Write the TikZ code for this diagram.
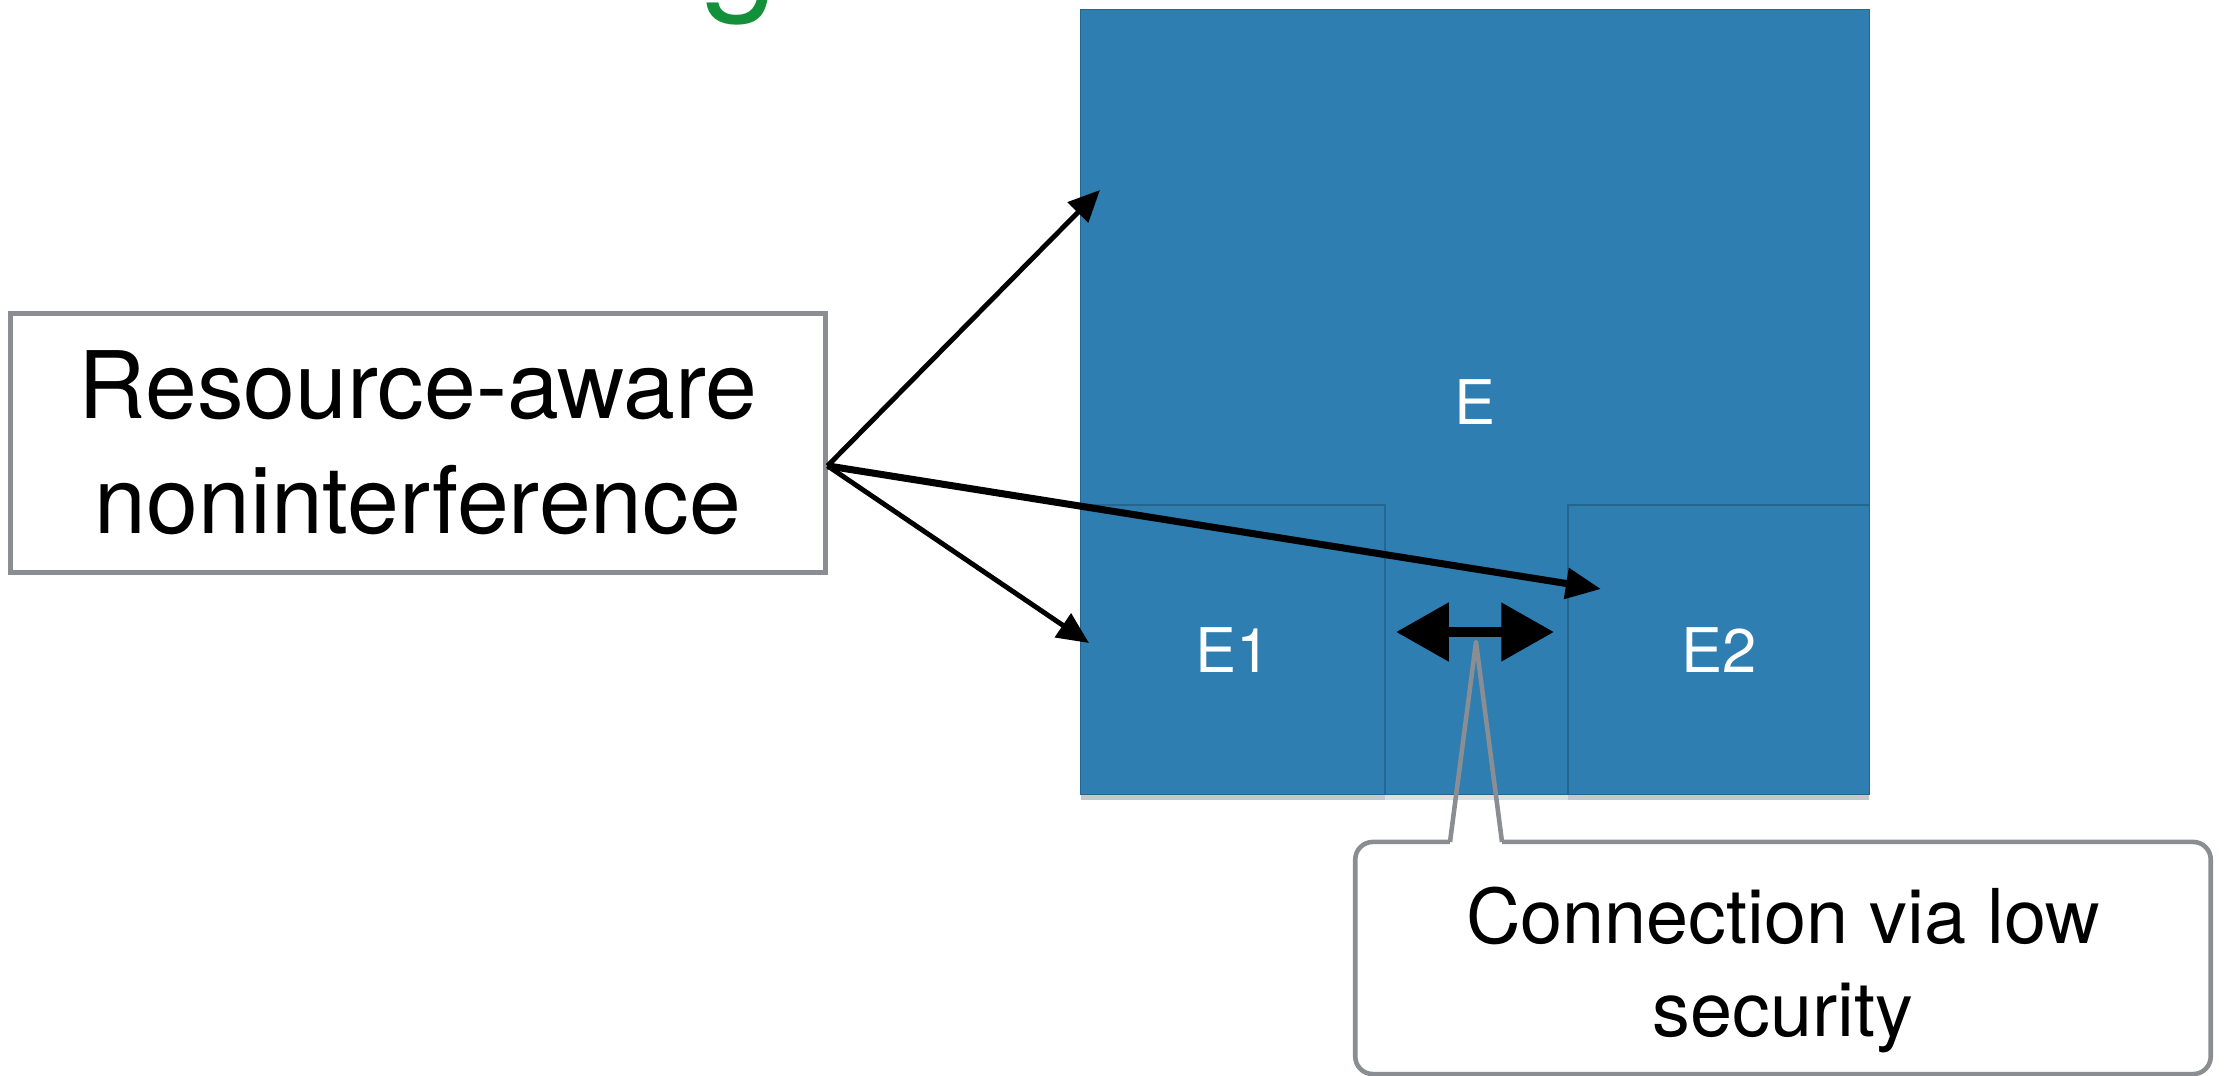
\documentclass[tikz,border=0pt]{standalone}
\usepackage{fontspec}
\setmainfont{TeX Gyre Heros}
\usepackage{tikz}
\usetikzlibrary{calc,positioning,arrows.meta,shadows}
\definecolor{paperblue}{RGB}{46,126,178}
\definecolor{titlegreen}{RGB}{18,145,58}
\definecolor{calloutgray}{RGB}{138,141,145}

\begin{document}
\begin{tikzpicture}[x=0.01cm,y=-0.01cm,
    envbox/.style={fill=paperblue,draw=paperblue!80!black,line width=0.4pt,inner sep=0pt,
      text=white,font=\fontsize{17.5}{20}\selectfont,
      drop shadow={shadow xshift=0pt,shadow yshift=-1.6pt,opacity=.25}},
    textbox/.style={draw=calloutgray,line width=1.3pt,fill=white,align=center,inner sep=0pt},
    ptr/.style={-{Triangle[length=9pt,width=8pt]},line width=1.4pt}]
  \useasboundingbox (0,0) rectangle (2226,1076);
  \clip (0,0) rectangle (2226,1076);
  \node[text=titlegreen,font=\fontsize{40}{44}\selectfont,anchor=base] (ttl) at (740,-5) {g};

  % environments
  \node[envbox,minimum width=7.88cm,minimum height=7.84cm] (E) at (1475,402) {E};
  \node[envbox,minimum width=3.04cm,minimum height=2.89cm,anchor=south west] (E1) at (E.south west) {E1};
  \node[envbox,minimum width=3.01cm,minimum height=2.89cm,anchor=south east] (E2) at (E.south east) {E2};

  \node[textbox,minimum width=8.14cm,minimum height=2.59cm,
    font=\fontsize{26.5}{32.7}\selectfont] (rani) at (418,443) {Resource-aware\\noninterference};
  \node[textbox,rounded corners=5pt,minimum width=8.55cm,minimum height=2.32cm] (conn) at (1783,958) {};
  \node[align=center,font=\fontsize{21.5}{26.3}\selectfont] (conntxt) at (1783,970) {Connection via low\\security};

  \coordinate (src) at ([yshift=-6.5pt]rani.east);
  \coordinate (hE) at (1100,190);
  \coordinate (hE1) at (1089,643);
  \coordinate (hE2) at (1601,589);
  \draw[ptr] (src) -- (hE);
  \draw[ptr] (src) -- (hE1);
  \draw[ptr,line width=2pt,-{Triangle[length=10pt,width=8.5pt]}] (src) -- (hE2);

  % low channel
  \coordinate (lo1) at (1396,632);
  \coordinate (lo2) at (1554,632);
  \draw[{Triangle[length=15pt,width=16pt]}-{Triangle[length=15pt,width=16pt]},line width=3pt] (lo1) -- (lo2);

  \coordinate (tip) at (1476,642);
  \coordinate (b1) at (1450,842);
  \coordinate (b2) at (1502,842);
  \draw[white,line width=1.8pt] (b1) -- (b2);
  \draw[calloutgray,line width=1.3pt,line join=round] (b1) -- (tip) -- (b2);
\end{tikzpicture}
\end{document}
